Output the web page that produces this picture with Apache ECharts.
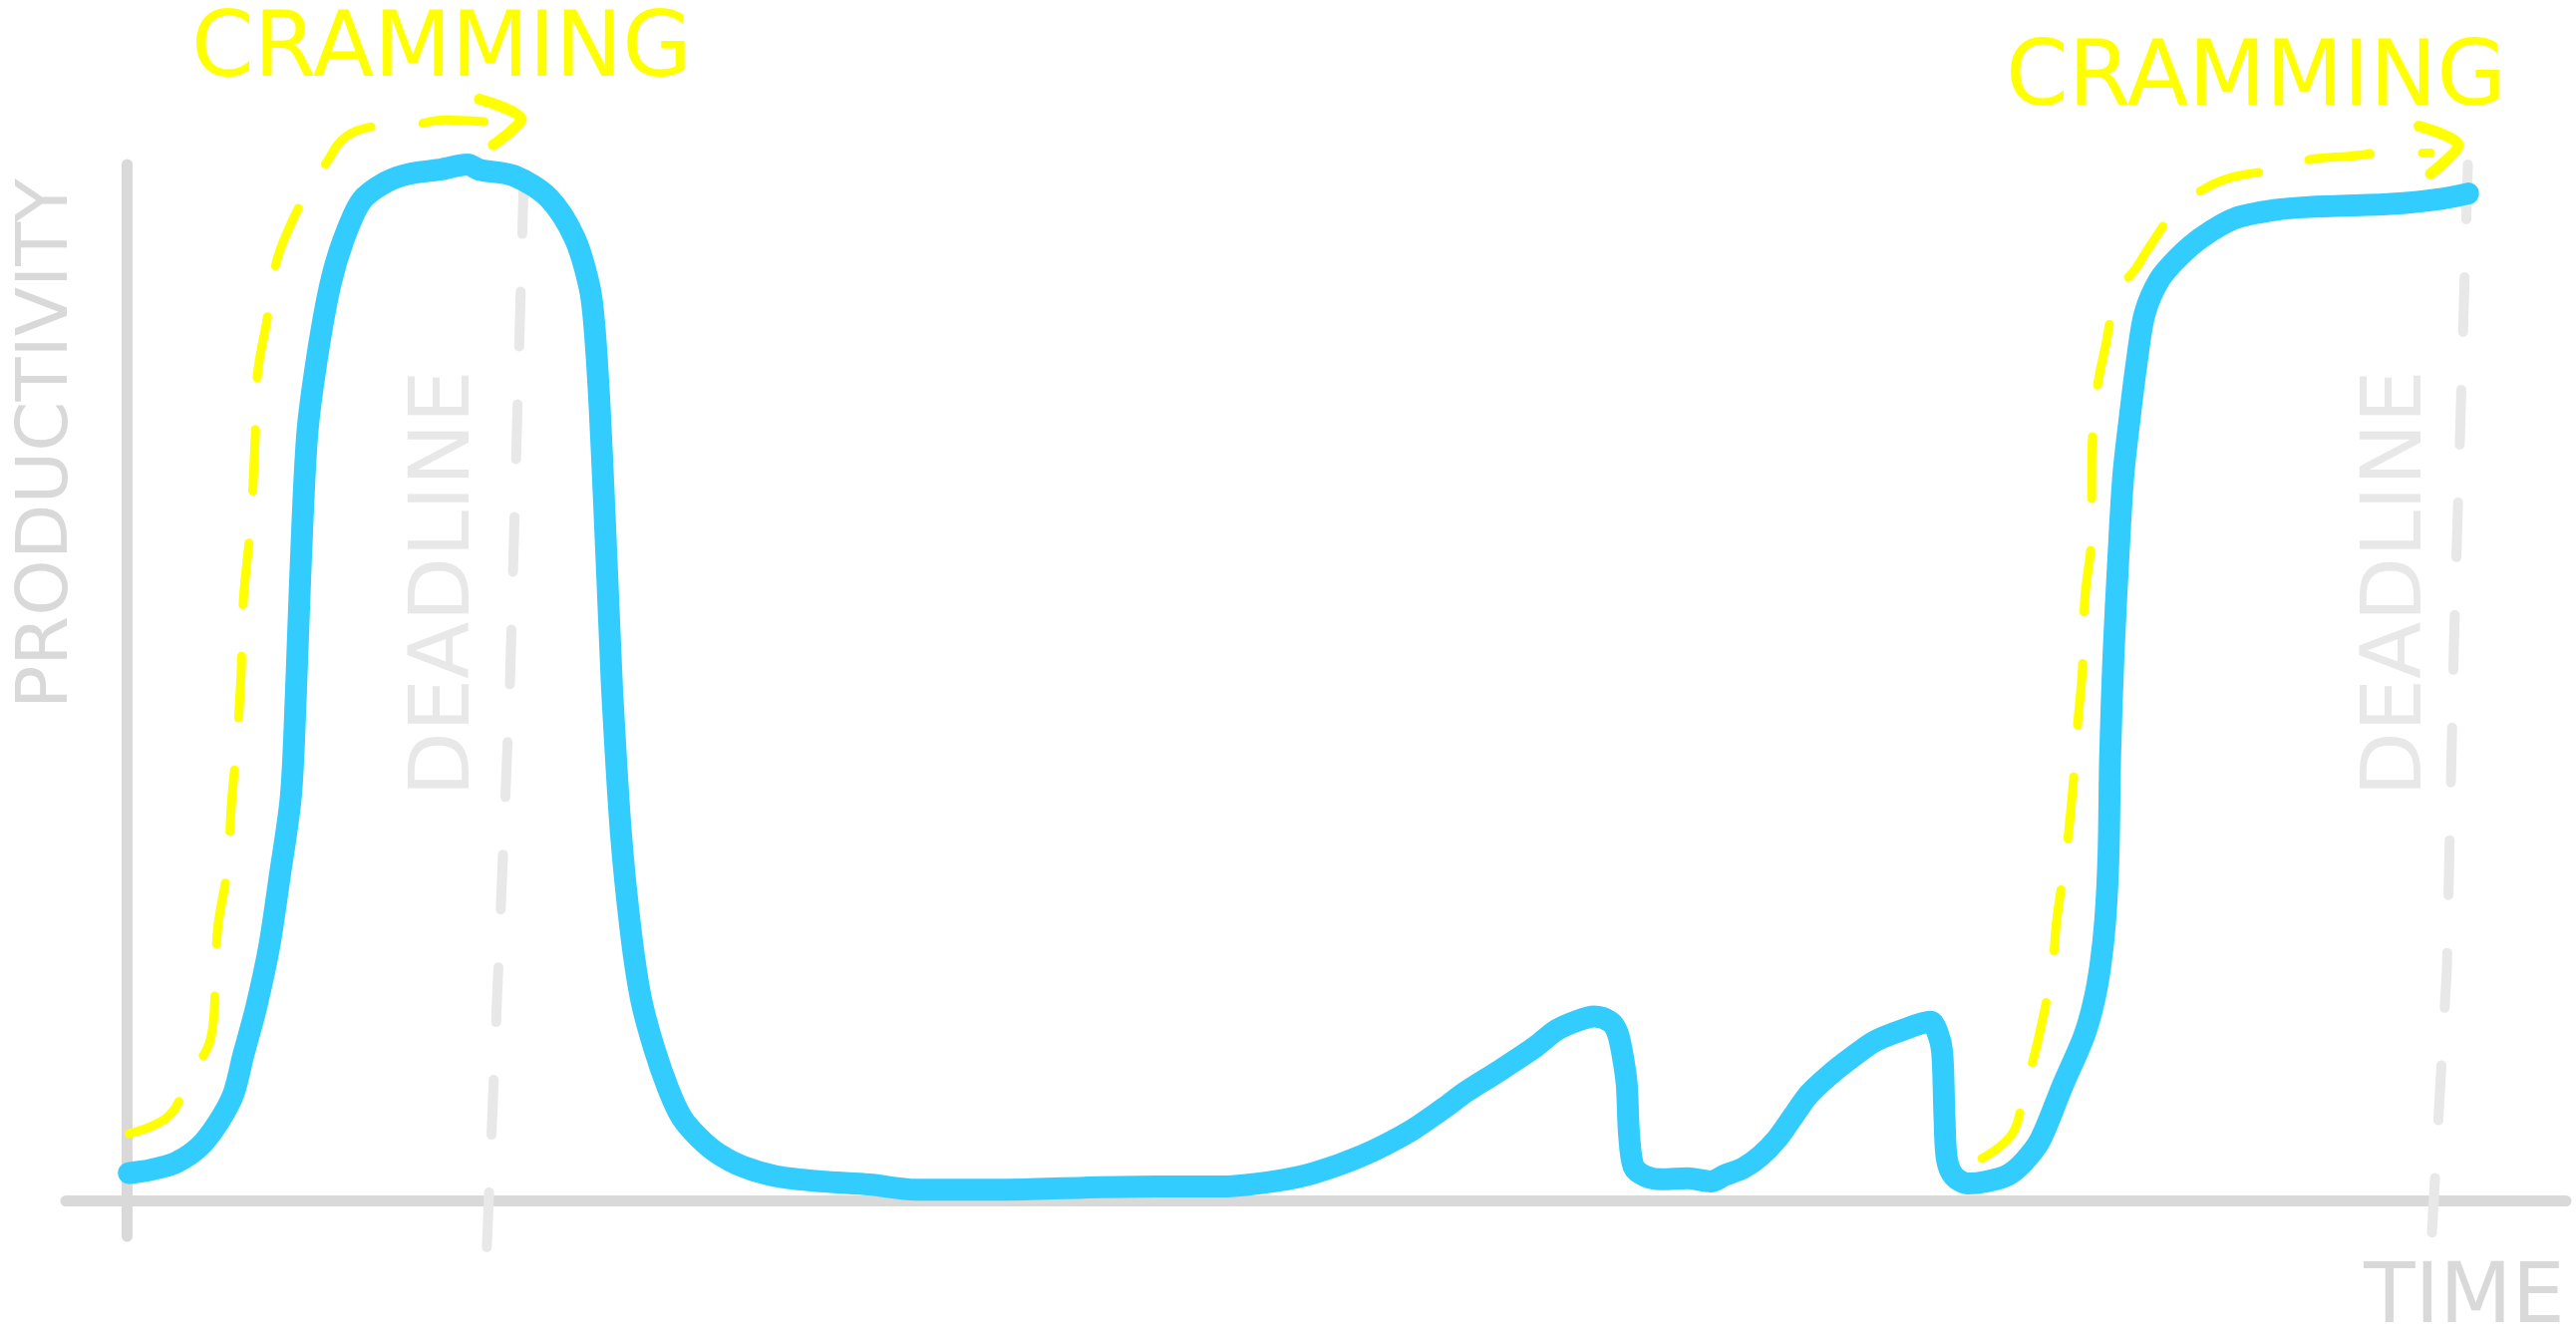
<!DOCTYPE html>
<html>
<head>
<meta charset="utf-8">
<script src="https://cdn.jsdelivr.net/npm/echarts@6/dist/echarts.min.js"></script>
<style>
  html, body { margin: 0; padding: 0; background: #fff; }
  #chart { width: 2584px; height: 1347px; }
</style>
</head>
<body>
<div id="chart"></div>
<script>
// time runs 0..100, productivity 0..100
const productivity = [
  [0.1, 2.7], [1.0, 3.0], [2.1, 3.7], [3.1, 5.2], [3.9, 7.5], [4.57, 10.3], [4.99, 14.0],
  [5.55, 18.7], [6.11, 24.6], [6.54, 31.1], [7.03, 39.0],
  [7.24, 48.5], [7.45, 61.2], [7.73, 73.9], [8.15, 81.3], [8.71, 88.3], [9.28, 92.7], [10.05, 96.5],
  [11.1, 98.3], [12.1, 99.1], [13.4, 99.5], [14.6, 100.0], [15.1, 99.5], [16.6, 98.9],
  [18.06, 96.8], [19.18, 92.9], [19.82, 88.1], [20.03, 84.2], [20.24, 76.9], [20.45, 66.7],
  [20.66, 55.6], [20.8, 48.5], [21.15, 35.7], [21.57, 26.2], [22.0, 19.7], [22.56, 14.9],
  [23.19, 10.8], [23.75, 8.1], [24.46, 6.2], [25.3, 4.6], [26.4, 3.3], [27.8, 2.4],
  [29.7, 1.9], [31.8, 1.6], [33.8, 1.1], [37.5, 1.1], [41.0, 1.3], [44.1, 1.4], [46.9, 1.4],
  [49.1, 1.9], [50.8, 2.7], [52.9, 4.4], [54.9, 6.7], [56.4, 9.0], [57.3, 10.5], [58.7, 12.5],
  [60.3, 14.9], [61.2, 16.5], [62.1, 17.4], [62.8, 17.8], [63.5, 17.3], [63.8, 16.3],
  [64.0, 14.4], [64.2, 11.3], [64.3, 6.5], [64.5, 3.3], [65.0, 2.4], [65.7, 2.1], [66.8, 2.2],
  [67.8, 1.9], [68.4, 2.5], [69.2, 3.2], [69.9, 4.3], [70.6, 5.9], [71.3, 8.1], [72.0, 10.3],
  [72.9, 12.2], [73.8, 13.8], [74.8, 15.4], [76.0, 16.5], [77.2, 17.3], [77.5, 16.3],
  [77.7, 14.4], [77.8, 8.1], [77.9, 4.1], [78.2, 2.4], [78.8, 1.7], [79.6, 1.9], [80.5, 2.5],
  [81.2, 3.8], [81.9, 5.9], [82.85, 11.1], [83.77, 15.9], [84.19, 19.2], [84.47, 22.7],
  [84.68, 27.1], [84.82, 33.4], [84.89, 43.0], [85.03, 52.5], [85.24, 62.0], [85.45, 69.9],
  [85.73, 75.6], [86.02, 80.8], [86.37, 85.6], [87.0, 88.9], [87.84, 91.1], [88.83, 93.0],
  [90.23, 94.8], [91.92, 95.6], [93.4, 95.9], [96.91, 96.2], [99.09, 96.7], [100.21, 97.2]
];

const crammingA = [
  [0.1, 6.5], [1.8, 8.2], [2.7, 12.0], [3.6, 15.7], [3.8, 20.8], [3.9, 26.3], [4.3, 31.9],
  [4.5, 38.7], [4.7, 43.7], [4.9, 50.9], [5.0, 58.0], [5.3, 65.1], [5.5, 73.4], [5.6, 79.7],
  [6.0, 84.9], [6.4, 90.5], [7.0, 94.1], [7.7, 97.2], [8.5, 100.0], [9.4, 102.7],
  [10.8, 103.7], [12.2, 103.8], [13.6, 104.3], [15.5, 104.1]
];
const arrowA = [[15.1, 106.3], [16.9, 104.4], [15.7, 101.9]];

const crammingB = [
  [79.4, 4.1], [80.7, 6.5], [81.2, 10.5], [81.8, 15.5], [82.4, 22.4], [82.6, 27.1],
  [83.0, 33.4], [83.3, 40.1], [83.5, 46.1], [83.7, 51.2], [83.8, 58.0], [84.1, 64.8],
  [84.1, 70.4], [84.3, 77.8], [84.7, 82.6], [85.2, 87.6], [86.0, 90.0], [86.5, 91.8],
  [87.7, 95.6], [88.8, 97.5], [90.0, 98.7], [91.9, 99.5], [93.5, 100.5], [95.1, 100.8],
  [96.7, 101.1], [98.6, 101.1]
];
const arrowB = [[98.1, 103.7], [99.8, 101.9], [98.6, 99.1]];

const deadlineA = [[17.0, 98.6], [16.4, 49.3], [15.4, -5.5]];
const deadlineB = [[100.2, 100.0], [99.6, 53.6], [99.3, 22.3], [98.6, -5.5]];

const axisNames = ['PRODUCTIVITY', 'TIME'];
const noteText = 'CRAMMING';
const deadlineText = 'DEADLINE';

const blue = '#33ccff';
const yellow = '#ffff00';
const axisGray = '#d9d9d9';
const deadGray = '#e8e8e8';
const font = '"DejaVu Sans", sans-serif';

const chart = echarts.init(document.getElementById('chart'));

function stroke(data, color, width, dash, smooth) {
  return {
    type: 'line',
    data,
    smooth,
    clip: false,
    silent: true,
    showSymbol: false,
    symbol: 'none',
    lineStyle: { color, width, type: dash, cap: 'round', join: 'round' },
  };
}

function label(text, x, y, size, color, rotation) {
  return {
    type: 'text',
    x, y,
    rotation: rotation || 0,
    silent: true,
    style: {
      text,
      x: 0, y: 0,
      align: 'center',
      verticalAlign: 'middle',
      fill: color,
      font: `${size}px ${font}`,
    },
  };
}

chart.setOption({
  animation: false,
  backgroundColor: '#fff',
  grid: { left: 66, right: 10, top: 165, bottom: 107 },
  xAxis: {
    type: 'value',
    min: -2.6,
    max: 104.4,
    axisLine: { onZero: true, lineStyle: { color: axisGray, width: 11, cap: 'round' } },
    axisTick: { show: false },
    axisLabel: { show: false },
    splitLine: { show: false },
  },
  yAxis: {
    type: 'value',
    min: -3.4,
    max: 100,
    axisLine: { show: true, onZero: true, lineStyle: { color: axisGray, width: 11, cap: 'round' } },
    axisTick: { show: false },
    axisLabel: { show: false },
    splitLine: { show: false },
  },
  series: [
    stroke(deadlineA, deadGray, 10, [55, 58], false),
    stroke(deadlineB, deadGray, 10, [55, 58], false),
    stroke(crammingA, yellow, 9, [62, 52], 0.4),
    stroke(arrowA, yellow, 11, 'solid', 0.3),
    stroke(crammingB, yellow, 9, [62, 52], 0.4),
    stroke(arrowB, yellow, 11, 'solid', 0.3),
    stroke(productivity, blue, 22, 'solid', 0.3),
  ],
  graphic: [
    label(noteText, 443, 53, 90, yellow),
    label(noteText, 2263, 82, 90, yellow),
    label(deadlineText, 448, 585, 84, deadGray, Math.PI / 2),
    label(deadlineText, 2406, 585, 84, deadGray, Math.PI / 2),
    label(axisNames[0], 48, 445, 72, axisGray, Math.PI / 2),
    label(axisNames[1], 2472, 1304, 84, axisGray),
  ],
});
</script>
</body>
</html>
